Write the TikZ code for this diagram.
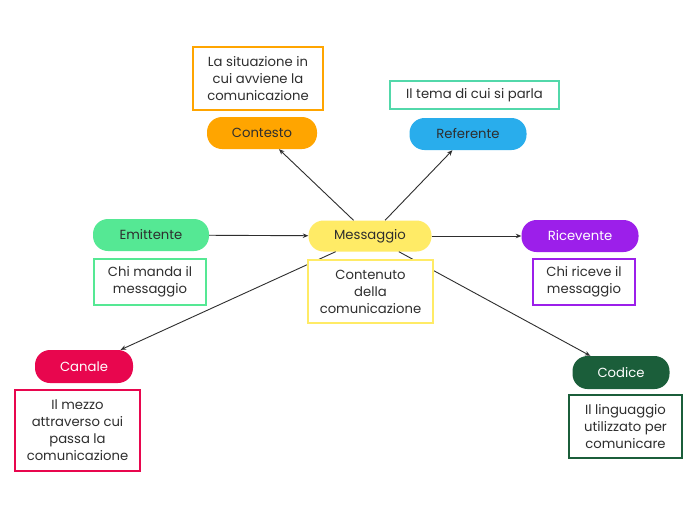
\documentclass[tikz,border=0pt]{standalone}
\usepackage{fontspec}
\setmainfont{Poppins}
\usetikzlibrary{arrows.meta, positioning}
\definecolor{txt}{HTML}{2E2E2E}
\definecolor{orangec}{HTML}{FFA500}
\definecolor{bluec}{HTML}{29ADEC}
\definecolor{tealc}{HTML}{52D8AA}
\definecolor{greenc}{HTML}{55E894}
\definecolor{yellowc}{HTML}{FFEB66}
\definecolor{purplec}{HTML}{9C1FEA}
\definecolor{redc}{HTML}{E8064E}
\definecolor{darkc}{HTML}{1B5E3A}
\begin{document}
\begin{tikzpicture}[x=1pt, y=-1pt,
  pill/.style={rounded corners=15pt, minimum height=32pt, text=txt, font=\fontsize{13.2}{16}\selectfont, inner sep=0pt},
  note/.style={draw, line width=2pt, fill=white, text=txt, align=center, font=\fontsize{13.2}{17}\selectfont, inner sep=0pt},
  link/.style={line width=0.9pt, draw=txt, -{Stealth[length=5.5pt, width=4.5pt]}}]
\useasboundingbox[fill=white] (0,0) rectangle (697,520);
\node[pill, fill=yellowc, minimum width=123pt, minimum height=31pt] (msg) at (370,236) {Messaggio};
\node[pill, fill=orangec, minimum width=110pt] (cont) at (262,133) {Contesto};
\node[pill, fill=bluec, minimum width=117pt] (ref) at (468,134) {Referente};
\node[pill, fill=greenc, minimum width=116pt] (emit) at (151,235) {Emittente};
\node[pill, fill=purplec, text=white, minimum width=117pt] (ric) at (580,236) {Ricevente};
\node[pill, fill=redc, text=white, minimum width=98pt, minimum height=33pt] (can) at (84,366.5) {Canale};
\node[pill, fill=darkc, text=white, minimum width=97pt, minimum height=33pt] (cod) at (621,372.5) {Codice};
\draw[link] (emit) -- (msg);
\draw[link] (msg) -- (cont);
\draw[link] (msg) -- (ref);
\draw[link] (msg) -- (ric);
\draw[link] (msg) -- (can);
\draw[link] (msg) -- (cod);
\node[note, draw=orangec, minimum width=130pt, minimum height=63pt] (contn) at (258,78.5) {La situazione in\\cui avviene la\\comunicazione};
\node[note, draw=tealc, minimum width=169pt, minimum height=28pt] (refn) at (474.5,95) {Il tema di cui si parla};
\node[note, draw=greenc, minimum width=112pt, minimum height=46pt] (emitn) at (150,282) {Chi manda il\\messaggio};
\node[note, draw=yellowc, minimum width=125pt, minimum height=63pt] (msgn) at (370.5,291.5) {Contenuto\\della\\comunicazione};
\node[note, draw=purplec, minimum width=102pt, minimum height=46pt] (ricn) at (584,282) {Chi riceve il\\messaggio};
\node[note, draw=redc, minimum width=125pt, minimum height=81pt] (cann) at (77.5,430.5) {Il mezzo\\attraverso cui\\passa la\\comunicazione};
\node[note, draw=darkc, minimum width=113pt, minimum height=63pt] (codn) at (625.5,426.5) {Il linguaggio\\utilizzato per\\comunicare};
\end{tikzpicture}
\end{document}
